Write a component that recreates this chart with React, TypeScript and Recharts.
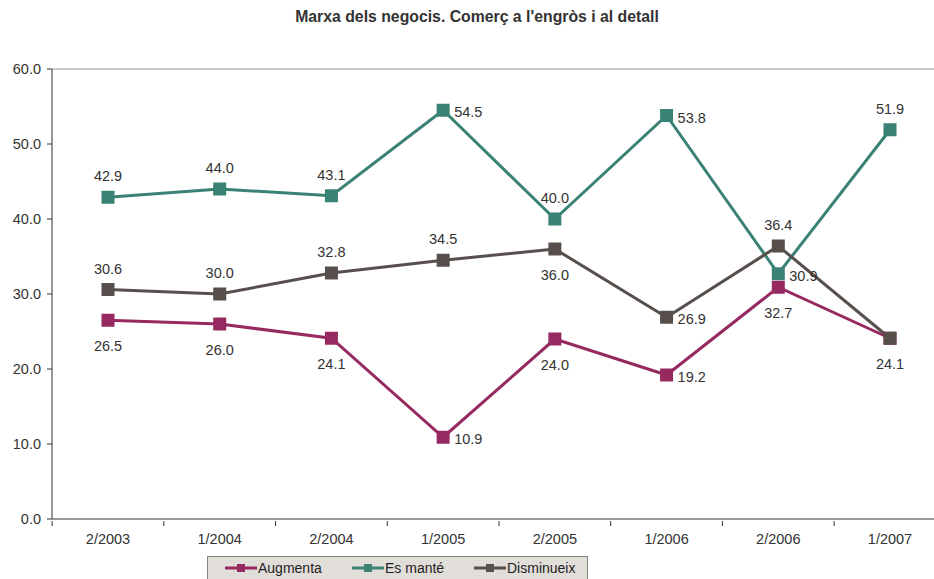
import { LineChart, Line, XAxis, YAxis, ReferenceLine, Legend, LabelList } from 'recharts';

const categories = ['2/2003', '1/2004', '2/2004', '1/2005', '2/2005', '1/2006', '2/2006', '1/2007'];
const augmenta = [26.5, 26.0, 24.1, 10.9, 24.0, 19.2, 30.9, 24.1];
const esMante = [42.9, 44.0, 43.1, 54.5, 40.0, 53.8, 32.7, 51.9];
const disminueix = [30.6, 30.0, 32.8, 34.5, 36.0, 26.9, 36.4, 24.1];

// label texts as printed in the source (the 2/2006 ones are swapped there,
// and the last Disminueix label sits under the Augmenta one)
const augmentaLabels = ['26.5', '26.0', '24.1', '10.9', '24.0', '19.2', '32.7', '24.1'];
const esManteLabels = ['42.9', '44.0', '43.1', '54.5', '40.0', '53.8', '30.9', '51.9'];
const disminueixLabels = ['30.6', '30.0', '32.8', '34.5', '36.0', '26.9', '36.4', ''];

const augmentaPlace = ['below', 'below', 'below', 'right', 'below', 'right', 'below', 'below'];
const esMantePlace = ['top', 'top', 'top', 'right', 'top', 'right', 'right', 'top'];
const disminueixPlace = ['top', 'top', 'top', 'top', 'below', 'right', 'top', 'below'];

const yTicks = [0, 10, 20, 30, 40, 50, 60];

const data = categories.map((cat, i) => ({
  cat,
  augmenta: augmenta[i],
  esMante: esMante[i],
  disminueix: disminueix[i],
}));

const series = [
  { key: 'augmenta', name: 'Augmenta', color: '#962a60', labels: augmentaLabels, place: augmentaPlace },
  { key: 'esMante', name: 'Es manté', color: '#3a8275', labels: esManteLabels, place: esMantePlace },
  { key: 'disminueix', name: 'Disminueix', color: '#574f4c', labels: disminueixLabels, place: disminueixPlace },
];

const FONT = 'Liberation Sans, Arial, sans-serif';
const BAND = 111.75;

function squareDot(color: string) {
  return (props: any) => {
    const { cx, cy, index } = props;
    if (cx == null || cy == null) return <g key={index} />;
    return <rect key={index} x={cx - 6.5} y={cy - 6.5} width={13} height={13} fill={color} />;
  };
}

function pointLabel(labels: string[], place: string[]) {
  return (props: any) => {
    const { x, y, index } = props;
    const p = place[index];
    let tx = x;
    let ty = y;
    let anchor: 'start' | 'middle' = 'middle';
    if (p === 'top') ty = y - 21;
    else if (p === 'below') ty = y + 26;
    else {
      tx = x + 11;
      ty = y + 2;
      anchor = 'start';
    }
    return (
      <text
        key={index}
        x={tx}
        y={ty}
        textAnchor={anchor}
        dominantBaseline="central"
        fontFamily={FONT}
        fontSize={14.5}
        fill="#333"
      >
        {labels[index]}
      </text>
    );
  };
}

function CatTick(props: any) {
  const { x, y, payload } = props;
  return (
    <g>
      <line x1={x - BAND / 2} y1={y - 6} x2={x - BAND / 2} y2={y - 1} stroke="#333" />
      <text x={x} y={y + 17} textAnchor="middle" fontFamily={FONT} fontSize={14.5} fill="#333">
        {payload.value}
      </text>
    </g>
  );
}

const legendLeft = [17, 144, 266];

function LegendBox() {
  return (
    <div
      style={{
        position: 'relative',
        boxSizing: 'border-box',
        width: 381,
        height: 26,
        background: '#e1ddd9',
        border: '1px solid #8a8582',
        fontFamily: FONT,
        fontSize: 14,
        color: '#222',
      }}
    >
      {series.map((s, i) => (
        <div
          key={s.key}
          style={{ position: 'absolute', left: legendLeft[i], top: 3, display: 'flex', alignItems: 'center' }}
        >
          <svg width={32} height={12}>
            <line x1={0} y1={6} x2={32} y2={6} stroke={s.color} strokeWidth={3} />
            <rect x={12} y={2} width={8} height={8} fill={s.color} />
          </svg>
          <span style={{ marginLeft: 1 }}>{s.name}</span>
        </div>
      ))}
    </div>
  );
}

export default function App() {
  return (
    <div
      style={{
        position: 'absolute',
        left: 0,
        top: 0,
        width: 934,
        height: 579,
        overflow: 'hidden',
        background: '#fff',
      }}
    >
      <div
        style={{
          position: 'absolute',
          top: 8,
          left: 0,
          width: 954,
          textAlign: 'center',
          fontFamily: FONT,
          fontWeight: 'bold',
          fontSize: 15.8,
          color: '#333',
        }}
      >
        Marxa dels negocis. Comerç a l'engròs i al detall
      </div>
      <LineChart width={960} height={579} data={data} margin={{ top: 69, right: 14, bottom: 30, left: 0 }}>
        <XAxis
          dataKey="cat"
          height={30}
          padding={{ left: 56, right: 56 }}
          tickLine={false}
          axisLine={{ stroke: '#333' }}
          tick={<CatTick />}
          interval={0}
        />
        <YAxis
          width={52}
          domain={[0, 60]}
          ticks={yTicks}
          tickFormatter={(v: number) => v.toFixed(1)}
          tickSize={5}
          tickMargin={6}
          axisLine={{ stroke: '#333' }}
          tickLine={{ stroke: '#333' }}
          tick={{ fill: '#333', fontSize: 14.5, fontFamily: FONT }}
        />
        <ReferenceLine y={60} stroke="#a3968f" strokeWidth={1} />
        <Legend
          layout="horizontal"
          verticalAlign="middle"
          align="center"
          content={<LegendBox />}
          wrapperStyle={{ position: 'absolute', left: 207, top: 556, width: 381, height: 26 }}
        />
        {[series[1], series[0], series[2]].map((s) => (
          <Line
            key={s.key}
            type="linear"
            dataKey={s.key}
            name={s.name}
            stroke={s.color}
            strokeWidth={3}
            dot={squareDot(s.color)}
            activeDot={false}
            isAnimationActive={false}
          >
            <LabelList dataKey={s.key} content={pointLabel(s.labels, s.place)} />
          </Line>
        ))}
      </LineChart>
    </div>
  );
}
